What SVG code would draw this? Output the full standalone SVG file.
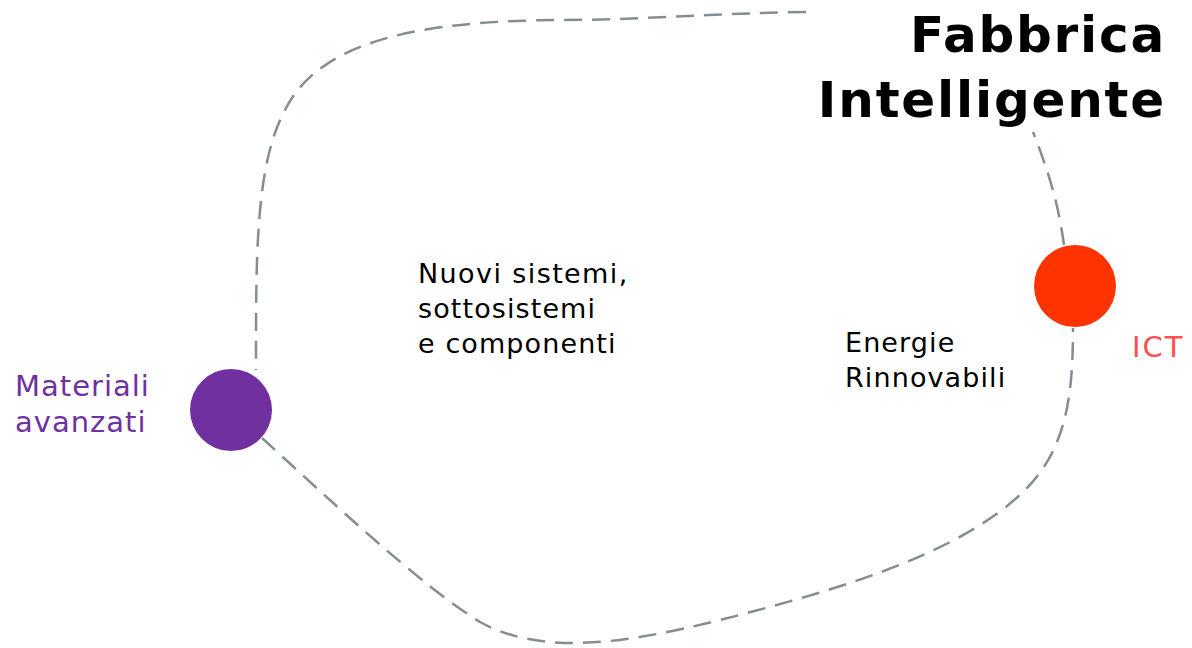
<svg xmlns="http://www.w3.org/2000/svg" width="1192" height="648" viewBox="0 0 1192 648">
<style>
.link{fill:none;stroke:#848d92;stroke-width:2.5;stroke-dasharray:18 10}
.t{font-family:"DejaVu Sans",Verdana,sans-serif;font-size:27px;letter-spacing:1.1px;fill:#000}
.title{font-family:"DejaVu Sans",Verdana,sans-serif;font-size:50px;font-weight:bold;letter-spacing:1.8px;fill:#000}
.side{font-size:29px;letter-spacing:1px}
</style>
<rect width="1192" height="648" fill="#fff"/>
<g id="connectors">
<path class="link" d="M806 12 C720 13 640 20 560 20 C420 21 320 40 285 110 C255 165 256 260 256 370"/>
<path class="link" d="M262 438 C330 500 420 585 480 622 C540 655 620 645 720 620 C830 592 960 555 1025 490 C1065 450 1073 400 1073 328"/>
<path class="link" d="M1064 245 C1058 200 1046 165 1033 132"/>
</g>
<g id="title">
<text class="title" x="1166" y="52" text-anchor="end">Fabbrica</text>
<text class="title" x="1166" y="117" text-anchor="end">Intelligente</text>
</g>
<g id="materiali">
<circle cx="231" cy="410" r="41" fill="#7030a0"/>
<text class="t side" x="15" y="396" fill="#7030a0" style="fill:#7030a0">Materiali</text>
<text class="t side" x="15" y="432" style="fill:#7030a0">avanzati</text>
</g>
<g id="ict">
<circle cx="1075" cy="286" r="41" fill="#ff3300"/>
<text class="t side" x="1132" y="357" style="fill:#ff5050;letter-spacing:2px">ICT</text>
</g>
<g id="nuovi">
<text class="t" x="418" y="283" style="letter-spacing:1.4px">Nuovi sistemi,</text>
<text class="t" x="418" y="318">sottosistemi</text>
<text class="t" x="418" y="353">e componenti</text>
</g>
<g id="energie">
<text class="t" x="845" y="352">Energie</text>
<text class="t" x="845" y="387">Rinnovabili</text>
</g>
</svg>
